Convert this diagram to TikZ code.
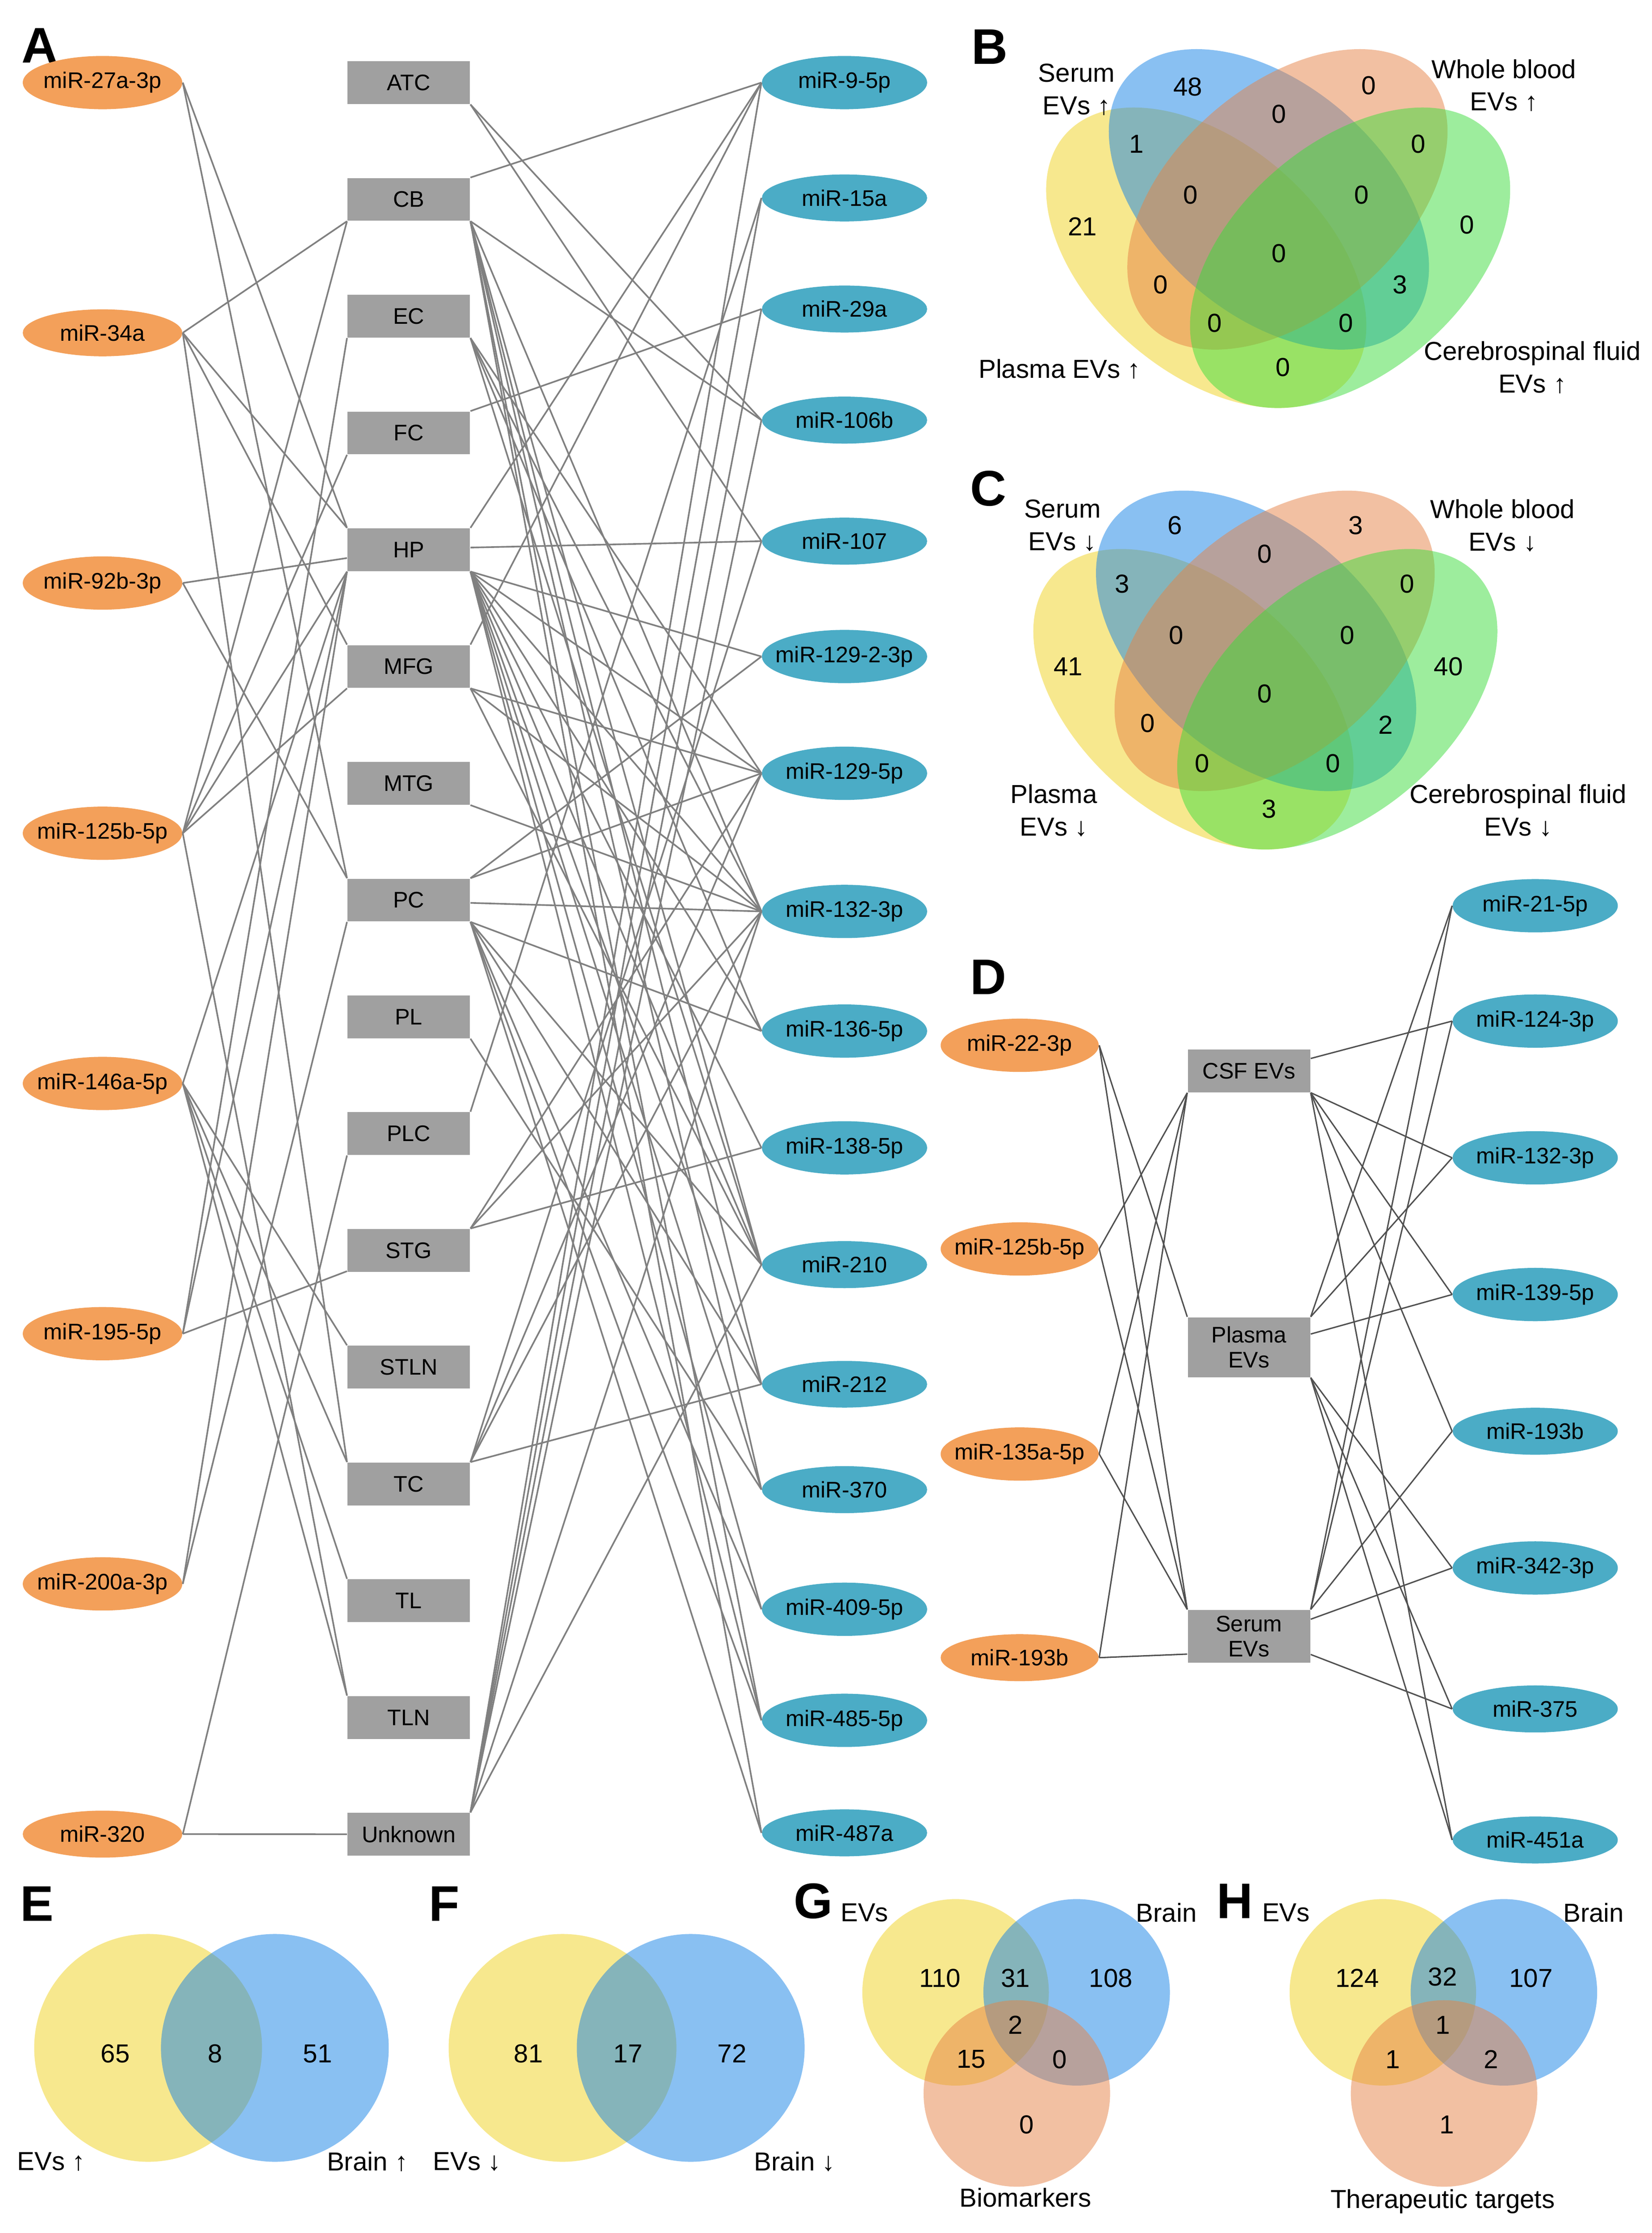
\documentclass[tikz,border=0pt]{standalone}
\usepackage{fontspec}
\setmainfont{Liberation Sans}
\usetikzlibrary{positioning,shapes.geometric,calc}

\definecolor{mirup}{RGB}{243,160,90}
\definecolor{mirdown}{RGB}{75,172,198}
\definecolor{regiongray}{RGB}{160,160,160}
\definecolor{edgegray}{RGB}{128,128,128}
\definecolor{dedge}{RGB}{80,80,80}
\definecolor{vyellow}{RGB}{240,210,30}
\definecolor{vblue}{RGB}{20,130,230}
\definecolor{vorange}{RGB}{230,130,70}
\definecolor{vgreen}{RGB}{60,220,60}

\tikzset{
    up mir/.style={
        ellipse, % Set the shape as an ellipse
        fill=mirup,
        minimum width=2.24cm,
        minimum height=0.6cm,
        font=\fontsize{9}{10}\selectfont,
    },
    down mir/.style={
        ellipse,
        fill=mirdown,
        minimum width=2.32cm,
        minimum height=0.6cm,
        font=\fontsize{9}{10}\selectfont,
    },
    area box/.style={
        rectangle, % Set the shape as a rectangle
        fill=regiongray,
        minimum width=1.72cm,
        minimum height=0.6cm,
        align=center,
        font=\fontsize{9}{10}\selectfont,
    },
    link/.style={draw=edgegray, line width=0.65pt},
    dlink/.style={draw=dedge, line width=0.55pt},
    panel/.style={font=\fontsize{20}{20}\selectfont\bfseries},
    venn num/.style={font=\fontsize{10.4}{12}\selectfont},
    venn lab/.style={font=\fontsize{10.4}{13}\selectfont, align=center},
}

\begin{document}
\begin{tikzpicture}[x=0.02cm, y=-0.02cm]
    \useasboundingbox (0,0) rectangle (1160,1568);

    % ---------- A ----------
    \node[panel] (labA) at (28,32) {A};
    \foreach \n/\t [count=\i from 0] in {m27a/miR-27a-3p, m34a/miR-34a, m92b/miR-92b-3p, m125b/miR-125b-5p,
        m146a/miR-146a-5p, m195/miR-195-5p, m200a/miR-200a-3p, m320/miR-320}
        \node[up mir] (\n) at (72,{58+175.7*\i}) {\makebox[0pt]{\t}};
    \foreach \n/\t [count=\i from 0] in {ATC/ATC, CB/CB, EC/EC, FC/FC, HP/HP, MFG/MFG, MTG/MTG, PC/PC,
        PL/PL, PLC/PLC, STG/STG, STLN/STLN, TC/TC, TL/TL, TLN/TLN, Unk/Unknown}
        \node[area box] (\n) at (287,{58+82*\i}) {\t};
    \foreach \n/\t/\ypos in {d9/miR-9-5p/58, d15a/miR-15a/139, d29a/miR-29a/217, d106b/miR-106b/295,
        d107/miR-107/380, d1292/miR-129-2-3p/461, d1295/miR-129-5p/543, d132/miR-132-3p/640,
        d136/miR-136-5p/724, d138/miR-138-5p/806, d210/miR-210/888, d212/miR-212/972,
        d370/miR-370/1046, d409/miR-409-5p/1130, d485/miR-485-5p/1208, d487a/miR-487a/1287}
        \node[down mir] (\n) at (593,\ypos) {\makebox[0pt]{\t}};

    % miRNA -> region
    \foreach \s/\t in {m27a/HP, m27a/PC, m34a/CB, m34a/HP, m34a/MFG, m34a/TC, m92b/HP, m92b/PC,
        m125b/CB, m125b/FC, m125b/HP, m125b/MFG, m125b/TLN, m146a/HP, m146a/TC, m146a/STLN,
        m146a/TL, m146a/TLN, m195/EC, m195/HP, m195/STG, m200a/HP, m200a/PC, m320/PLC, m320/Unk}
        \draw[link] let \p1=(\s.east), \p2=(\t.west), \p3=(\t.north west),
            \n1={max(-((\y3)-(\y2)),min((\y3)-(\y2),((\y1)-(\y2))/4))} in
            (\p1) -- (\x3,{\y2+\n1});
    % region -> miRNA
    \foreach \s/\t in {ATC/d106b, ATC/d107,
        CB/d9, CB/d106b, CB/d132, CB/d210, CB/d212, CB/d370, CB/d485, CB/d487a,
        EC/d1295, EC/d132, EC/d136, EC/d210, FC/d29a,
        HP/d9, HP/d107, HP/d1292, HP/d1295, HP/d132, HP/d136, HP/d138, HP/d210, HP/d212,
        HP/d370, HP/d409, HP/d485,
        MFG/d9, MFG/d1295, MFG/d132, MFG/d210, MTG/d132,
        PC/d1292, PC/d1295, PC/d132, PC/d136, PC/d210, PC/d212, PC/d409, PC/d485, PC/d487a,
        PL/d370, PLC/d15a, STG/d1295, STG/d132, STG/d138,
        TC/d107, TC/d1295, TC/d132, TC/d212,
        Unk/d9, Unk/d15a, Unk/d29a, Unk/d106b, Unk/d132, Unk/d210}
        \draw[link] let \p1=(\s.east), \p2=(\t.west), \p3=(\s.north east),
            \n1={max(-((\y3)-(\y1)),min((\y3)-(\y1),((\y2)-(\y1))/4))} in
            (\x3,{\y1+\n1}) -- (\p2);

    % ---------- D ----------
    \node[panel] (labD) at (694,686) {D};
    \foreach \n/\t/\ypos in {p22/miR-22-3p/734, p125b/miR-125b-5p/877, p135a/miR-135a-5p/1021, p193b/miR-193b/1164}
        \node[up mir, minimum width=2.22cm] (\n) at (716,\ypos) {\makebox[0pt]{\t}};
    \node[area box] (CSF) at (877,752) {CSF EVs};
    \node[area box, minimum height=0.84cm, inner sep=1pt] (Plasma) at (877,946) {Plasma\\EVs};
    \node[area box, minimum height=0.74cm, inner sep=1pt] (Serum) at (877,1149) {Serum\\EVs};
    \foreach \n/\t/\ypos in {q21/miR-21-5p/636, q124/miR-124-3p/717, q132/miR-132-3p/813, q139/miR-139-5p/909,
        q193b/miR-193b/1005, q342/miR-342-3p/1101, q375/miR-375/1200, q451a/miR-451a/1292}
        \node[down mir] (\n) at (1078,\ypos) {\makebox[0pt]{\t}};

    \foreach \s/\t in {p22/Plasma, p22/Serum, p125b/CSF, p125b/Serum, p135a/CSF, p135a/Serum,
        p193b/CSF, p193b/Serum}
        \draw[dlink] let \p1=(\s.east), \p2=(\t.west), \p3=(\t.north west),
            \n1={max(-((\y3)-(\y2)),min((\y3)-(\y2),((\y1)-(\y2))/1.2))} in
            (\p1) -- (\x3,{\y2+\n1});
    \foreach \s/\t in {CSF/q124, CSF/q132, CSF/q139, CSF/q193b, CSF/q451a,
        Plasma/q21, Plasma/q132, Plasma/q139, Plasma/q342, Plasma/q375, Plasma/q451a,
        Serum/q21, Serum/q124, Serum/q193b, Serum/q342, Serum/q375}
        \draw[dlink] let \p1=(\s.east), \p2=(\t.west), \p3=(\s.north east),
            \n1={max(-((\y3)-(\y1)),min((\y3)-(\y1),((\y2)-(\y1))/4))} in
            (\x3,{\y1+\n1}) -- (\p2);

    % ---------- B and C ----------
    \foreach \dx/\dy in {0/0, -9/310}{
        \begin{scope}[shift={(\dx,\dy)}]
            \fill[vyellow, opacity=.5, rotate around={-41:(847,181)}] (847,181) ellipse [x radius=2.63cm, y radius=1.61cm];
            \fill[vblue, opacity=.5, rotate around={-41:(891,140)}] (891,140) ellipse [x radius=2.63cm, y radius=1.61cm];
            \fill[vorange, opacity=.5, rotate around={41:(904,140)}] (904,140) ellipse [x radius=2.63cm, y radius=1.61cm];
            \fill[vgreen, opacity=.5, rotate around={41:(948,181)}] (948,181) ellipse [x radius=2.63cm, y radius=1.61cm];
        \end{scope}
    }
    \node[panel] (labB) at (695,33) {B};
    \foreach \t/\xp/\yp [count=\k] in {48/834/61, 0/961/60, 0/898/80, 1/798/101, 0/996/101, 21/760/159,
        0/836/137, 0/956/137, 0/1030/158, 0/898/178, 0/815/200, 3/983/200, 0/853/227, 0/945/227, 0/901/258}
        \node[venn num] (b\k) at (\xp,\yp) {\t};
    \node[venn lab] (bS) at (756,63) {Serum\\EVs ↑};
    \node[venn lab] (bW) at (1056,60) {Whole blood\\EVs ↑};
    \node[venn lab] (bP) at (744,259) {Plasma EVs ↑};
    \node[venn lab] (bC) at (1076,258) {Cerebrospinal fluid\\EVs ↑};

    \node[panel] (labC) at (694,343) {C};
    \foreach \t/\xp/\yp [count=\k] in {6/825/369, 3/952/369, 0/888/389, 3/788/410, 0/988/410, 0/826/446,
        0/946/446, 41/750/468, 40/1017/468, 0/888/487, 0/806/508, 2/973/509, 0/844/536, 0/936/536, 3/891/568}
        \node[venn num] (c\k) at (\xp,\yp) {\t};
    \node[venn lab] (cS) at (746,369) {Serum\\EVs ↓};
    \node[venn lab] (cW) at (1055,369) {Whole blood\\EVs ↓};
    \node[venn lab] (cP) at (740,569) {Plasma\\EVs ↓};
    \node[venn lab] (cC) at (1066,569) {Cerebrospinal fluid\\EVs ↓};

    % ---------- E and F ----------
    \fill[vyellow, opacity=.5] (104,1438) circle [radius=1.6cm];
    \fill[vblue, opacity=.5] (193,1438) circle [radius=1.6cm];
    \fill[vyellow, opacity=.5] (395,1438) circle [radius=1.6cm];
    \fill[vblue, opacity=.5] (485,1438) circle [radius=1.6cm];
    \node[panel] (labE) at (26,1337) {E};
    \node[panel] (labF) at (312,1337) {F};
    \foreach \t/\xp [count=\k] in {65/81, 8/151, 51/223, 81/371, 17/441, 72/514}
        \node[venn num] (e\k) at (\xp,1442) {\t};
    \node[venn lab] (eE) at (36,1518) {EVs ↑};
    \node[venn lab] (eB) at (258,1518) {Brain ↑};
    \node[venn lab] (fE) at (328,1518) {EVs ↓};
    \node[venn lab] (fB) at (558,1518) {Brain ↓};

    % ---------- G and H ----------
    \foreach \cx in {671, 971}{
        \fill[vyellow, opacity=.5] (\cx,1399) circle [radius=1.31cm];
        \fill[vblue, opacity=.5] ({\cx+85},1399) circle [radius=1.31cm];
        \fill[vorange, opacity=.5] ({\cx+43},1470) circle [radius=1.31cm];
    }
    \node[panel] (labG) at (571,1335) {G};
    \node[panel] (labH) at (867,1335) {H};
    \foreach \t/\xp/\yp [count=\k] in {110/660/1389, 31/713/1389, 108/780/1389, 2/713/1422, 15/682/1446,
        0/744/1446, 0/721/1492, 124/953/1389, 32/1013/1388, 107/1075/1389, 1/1013/1422, 1/978/1446,
        2/1047/1446, 1/1016/1492}
        \node[venn num] (g\k) at (\xp,\yp) {\t};
    \node[venn lab] (gE) at (607,1343) {EVs};
    \node[venn lab] (gB) at (819,1343) {Brain};
    \node[venn lab] (gM) at (720,1543) {Biomarkers};
    \node[venn lab] (hE) at (903,1343) {EVs};
    \node[venn lab] (hB) at (1119,1343) {Brain};
    \node[venn lab] (hT) at (1013,1546) {Therapeutic targets};
\end{tikzpicture}
\end{document}
